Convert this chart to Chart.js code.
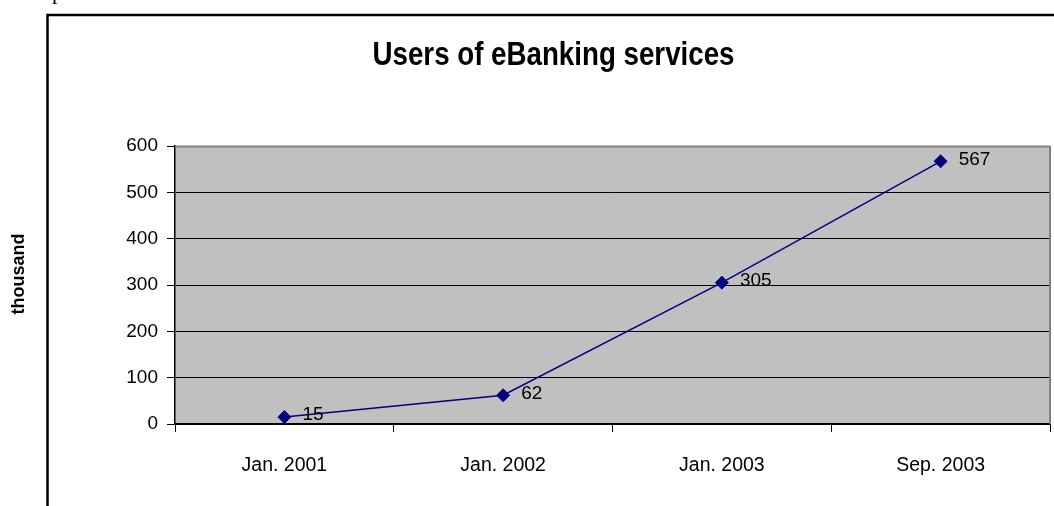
<!DOCTYPE html>
<html>
<head>
<meta charset="utf-8">
<script src="https://cdn.jsdelivr.net/npm/chart.js@4"></script>
<style>
  html, body { margin: 0; padding: 0; background: #fff; overflow: hidden; }
  #wrap { position: relative; width: 1054px; height: 506px; }
  #cut { position: absolute; left: 52px; top: -19px; font-family: 'Liberation Serif', serif; font-size: 22px; line-height: 22px; color: #000; }
  canvas { position: absolute; left: 0; top: 0; }
</style>
</head>
<body>
<div id="wrap">
  <canvas id="c" width="1054" height="506"></canvas>
  <div id="cut">p</div>
</div>
<script>
const categories = ['Jan. 2001', 'Jan. 2002', 'Jan. 2003', 'Sep. 2003'];
const users = [15, 62, 305, 567];
const yTickValues = [0, 100, 200, 300, 400, 500, 600];
const chartTitle = 'Users of eBanking services';
const yAxisTitle = 'thousand';

const SANS = "'Liberation Sans', Arial, sans-serif";

const decor = {
  id: 'decor',
  beforeDraw(chart) {
    const { ctx, chartArea: a } = chart;
    ctx.save();
    ctx.fillStyle = '#ffffff';
    ctx.fillRect(0, 0, chart.width, chart.height);
    ctx.fillStyle = '#C0C0C0';
    ctx.fillRect(a.left, a.top, a.right - a.left, a.bottom - a.top);
    ctx.restore();
  },
  beforeDatasetsDraw(chart) {
    const { ctx, chartArea: a } = chart;
    ctx.save();
    ctx.strokeStyle = '#808080';
    ctx.lineWidth = 2;
    ctx.beginPath();
    ctx.moveTo(a.left, a.top + 0.5);
    ctx.lineTo(a.right, a.top + 0.5);
    ctx.moveTo(a.right, a.top);
    ctx.lineTo(a.right, a.bottom);
    ctx.stroke();
    ctx.restore();
  },
  afterDatasetsDraw(chart) {
    const { ctx } = chart;
    const meta = chart.getDatasetMeta(0);
    ctx.save();
    ctx.font = '19px ' + SANS;
    ctx.fillStyle = '#000';
    ctx.textAlign = 'left';
    ctx.textBaseline = 'middle';
    meta.data.forEach((pt, i) => {
      ctx.fillText(String(users[i]), pt.x + 18, pt.y - 2);
    });
    ctx.restore();
  },
  afterDraw(chart) {
    const { ctx } = chart;
    ctx.save();
    // title: condensed bold, drawn with a horizontal squeeze
    ctx.save();
    ctx.translate(553.5, 65);
    ctx.scale(0.815, 1);
    ctx.font = 'bold 34px ' + SANS;
    ctx.fillStyle = '#000';
    ctx.textAlign = 'center';
    ctx.textBaseline = 'alphabetic';
    ctx.fillText(chartTitle, 0, 0);
    ctx.restore();
    // y-axis title
    ctx.save();
    ctx.translate(19, 274);
    ctx.rotate(-Math.PI / 2);
    ctx.font = 'bold 18px ' + SANS;
    ctx.fillStyle = '#000';
    ctx.textAlign = 'center';
    ctx.textBaseline = 'middle';
    ctx.fillText(yAxisTitle, 0, 0);
    ctx.restore();
    // outer frame
    ctx.strokeStyle = '#000';
    ctx.lineWidth = 2.5;
    ctx.beginPath();
    ctx.moveTo(47.5, 506);
    ctx.lineTo(47.5, 15);
    ctx.lineTo(1054, 15);
    ctx.stroke();
    ctx.restore();
  }
};

new Chart(document.getElementById('c'), {
  type: 'line',
  data: {
    labels: categories,
    datasets: [{
      data: users,
      borderColor: '#000080',
      backgroundColor: '#000080',
      borderWidth: 1.5,
      pointStyle: 'rectRot',
      pointRadius: 6.5,
      pointBackgroundColor: '#000080',
      pointBorderColor: '#000080',
      pointBorderWidth: 1,
      tension: 0,
      fill: false
    }]
  },
  options: {
    responsive: false,
    animation: false,
    devicePixelRatio: 1,
    layout: { autoPadding: false, padding: { left: 0, right: 4, top: 146, bottom: 0 } },
    plugins: { legend: { display: false }, title: { display: false }, tooltip: { enabled: false } },
    scales: {
      x: {
        type: 'category',
        offset: true,
        grid: { offset: true, drawOnChartArea: false, drawTicks: true, tickLength: 8, color: '#000', lineWidth: 1 },
        border: { display: true, color: '#000', width: 1.5 },
        ticks: { color: '#000', font: { family: SANS, size: 19.5 }, padding: 22, maxRotation: 0, autoSkip: false },
        afterFit(s) { s.height = 82; }
      },
      y: {
        min: 0,
        max: 600,
        afterBuildTicks(s) { s.ticks = yTickValues.map(v => ({ value: v })); },
        ticks: { color: '#000', font: { family: SANS, size: 19 }, padding: 9 },
        grid: { color: '#000', lineWidth: 1, drawTicks: true, tickLength: 8 },
        border: { display: true, color: '#000', width: 1.5 },
        afterFit(s) { s.width = 175; }
      }
    }
  },
  plugins: [decor]
});
</script>
</body>
</html>
